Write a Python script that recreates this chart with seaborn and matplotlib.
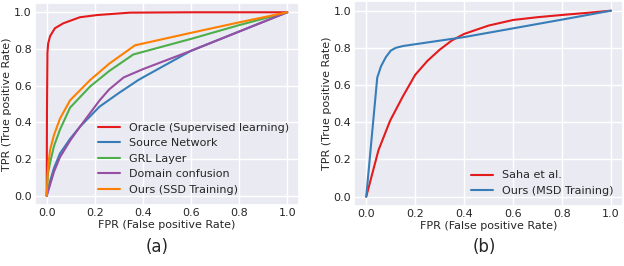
import numpy as np
import pandas as pd
import matplotlib
matplotlib.use("Agg")
import matplotlib.pyplot as plt
import seaborn as sns

# ---- Panel (a) data ----
oracle_fpr = [0.0, 0.001, 0.003, 0.006, 0.014, 0.034, 0.069, 0.138, 0.21, 0.346, 0.6, 1.0]
oracle_tpr = [0.0, 0.45, 0.78, 0.83, 0.87, 0.913, 0.94, 0.973, 0.985, 0.998, 1.0, 1.0]

source_fpr = [0.0, 0.014, 0.03, 0.055, 0.097, 0.138, 0.22, 0.30, 0.38, 0.4, 0.6, 0.8, 1.0]
source_tpr = [0.0, 0.08, 0.15, 0.23, 0.31, 0.376, 0.486, 0.56, 0.63, 0.645, 0.79, 0.895, 1.0]

grl_fpr = [0.0, 0.005, 0.014, 0.03, 0.055, 0.097, 0.18, 0.26, 0.36, 0.6, 0.8, 1.0]
grl_tpr = [0.0, 0.12, 0.18, 0.27, 0.36, 0.48, 0.595, 0.68, 0.77, 0.855, 0.93, 1.0]

domain_fpr = [0.0, 0.014, 0.03, 0.055, 0.097, 0.138, 0.22, 0.26, 0.32, 0.4, 0.6, 0.8, 1.0]
domain_tpr = [0.0, 0.06, 0.13, 0.21, 0.30, 0.376, 0.52, 0.58, 0.645, 0.69, 0.79, 0.895, 1.0]

ssd_fpr = [0.0, 0.005, 0.014, 0.03, 0.055, 0.097, 0.18, 0.26, 0.367, 0.6, 0.8, 1.0]
ssd_tpr = [0.0, 0.15, 0.25, 0.33, 0.42, 0.52, 0.63, 0.72, 0.82, 0.888, 0.945, 1.0]

labels_a = ["Oracle (Supervised learning)", "Source Network", "GRL Layer",
            "Domain confusion", "Ours (SSD Training)"]

# ---- Panel (b) data ----
saha_fpr = [0.0, 0.05, 0.098, 0.15, 0.2, 0.25, 0.3, 0.35, 0.4, 0.5, 0.6, 0.7, 0.8, 0.9, 1.0]
saha_tpr = [0.0, 0.25, 0.41, 0.54, 0.655, 0.73, 0.79, 0.84, 0.875, 0.92, 0.95, 0.965, 0.977, 0.988, 1.0]

msd_fpr = [0.0, 0.045, 0.06, 0.08, 0.1, 0.12, 0.15, 0.4, 0.6, 0.8, 1.0]
msd_tpr = [0.0, 0.64, 0.70, 0.75, 0.785, 0.80, 0.81, 0.858, 0.905, 0.952, 1.0]

labels_b = ["Saha et al.", "Ours (MSD Training)"]

def long_df(pairs, labels):
    frames = []
    for (fx, fy), lab in zip(pairs, labels):
        frames.append(pd.DataFrame({"fpr": fx, "tpr": fy, "method": lab}))
    return pd.concat(frames, ignore_index=True)

df_a = long_df([(oracle_fpr, oracle_tpr), (source_fpr, source_tpr), (grl_fpr, grl_tpr),
                (domain_fpr, domain_tpr), (ssd_fpr, ssd_tpr)], labels_a)
df_b = long_df([(saha_fpr, saha_tpr), (msd_fpr, msd_tpr)], labels_b)

sns.set_theme(style="darkgrid")
plt.rcParams['font.family'] = ['DejaVu Sans']

pal = sns.color_palette("Set1", 5)

fig = plt.figure(figsize=(6.24, 2.66), dpi=100)
ax1 = fig.add_axes([0.0556, 0.2297, 0.4240, 0.7586])
ax2 = fig.add_axes([0.5673, 0.2256, 0.4314, 0.7692])

sns.lineplot(data=df_a, x="fpr", y="tpr", hue="method", hue_order=labels_a,
             palette=pal, sort=False, estimator=None, lw=1.5, ax=ax1)
sns.lineplot(data=df_b, x="fpr", y="tpr", hue="method", hue_order=labels_b,
             palette=pal[:2], sort=False, estimator=None, lw=1.5, ax=ax2)

ticks = [0.0, 0.2, 0.4, 0.6, 0.8, 1.0]
for ax, ycoord in ((ax1, -0.084), (ax2, -0.080)):
    ax.set_xlim(-0.05, 1.05)
    ax.set_ylim(-0.05, 1.05)
    ax.set_xticks(ticks)
    ax.set_yticks(ticks)
    ax.set_xticklabels([f"{t:.1f}" for t in ticks], fontsize=8)
    ax.set_yticklabels([f"{t:.1f}" for t in ticks], fontsize=8)
    ax.tick_params(axis="both", length=0, pad=2)
    ax.set_xlabel("FPR (False positive Rate)", fontsize=8)
    ax.set_ylabel("TPR (True positive Rate)", fontsize=8)
    ax.xaxis.set_label_coords(0.5, -0.074)
    ax.yaxis.set_label_coords(ycoord, 0.5)
    ax.legend(loc="lower right", frameon=False, fontsize=8, handlelength=2.0)

fig.text(157 / 624, 1 - 246.5 / 266, "(a)", fontsize=12, ha="center", va="center")
fig.text(484 / 624, 1 - 247 / 266, "(b)", fontsize=12, ha="center", va="center")

fig.savefig("out.png", dpi=100)
